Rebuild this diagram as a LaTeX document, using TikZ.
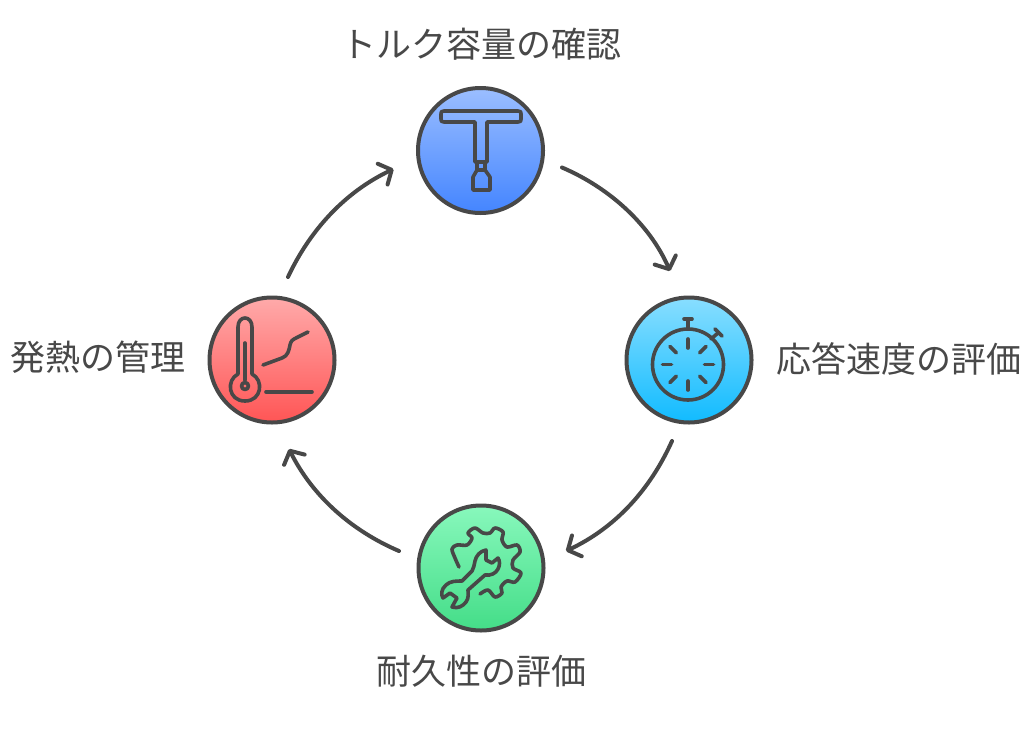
\documentclass[tikz,border=0pt]{standalone}
\usepackage{fontspec}
\setmainfont{Noto Sans CJK JP}
\usetikzlibrary{arrows.meta,calc}
\definecolor{ink}{HTML}{484848}
\tikzset{
  x=1pt,y=-1pt,
  disc/.style={circle,draw=ink,line width=4pt,minimum size=125pt,inner sep=0pt,shading=axis,shading angle=0},
  iconline/.style={draw=ink,line width=3.6pt,line cap=round,line join=round},
  flow/.style={draw=ink,line width=4pt,line cap=round,-{Straight Barb[length=10pt,width=23pt,line width=4pt,round]}},
  caption/.style={text=ink,font=\fontsize{35}{38}\selectfont,inner sep=0pt}
}
\begin{document}
\begin{tikzpicture}
\useasboundingbox (0,0) rectangle (1024,736);
\node[disc,top color={rgb,255:red,155;green,190;blue,255},bottom color={rgb,255:red,68;green,133;blue,255}] (tq) at (480.5,150.5) {};
\node[disc,top color={rgb,255:red,136;green,222;blue,255},bottom color={rgb,255:red,17;green,187;blue,255}] (sp) at (689,360) {};
\node[disc,top color={rgb,255:red,136;green,248;blue,188},bottom color={rgb,255:red,68;green,221;blue,136}] (du) at (481,568) {};
\node[disc,top color={rgb,255:red,255;green,170;blue,170},bottom color={rgb,255:red,255;green,85;blue,85}] (he) at (272,360) {};

\node[caption] (l1) at (481,44.5) {トルク容量の確認};
\node[caption] (l2) at (899,358.5) {応答速度の評価};
\node[caption] (l3) at (481,671) {耐久性の評価};
\node[caption] (l4) at (98,357.5) {発熱の管理};

\coordinate (a1s) at ($(tq)+(81.5,17)$);
\coordinate (a1e) at ($(sp)+(-19,-89)$);
\coordinate (a2s) at ($(sp)+(-17,81)$);
\coordinate (a2e) at ($(du)+(85,-17)$);
\coordinate (a3s) at ($(du)+(-82,-17)$);
\coordinate (a3e) at ($(he)+(17,89)$);
\coordinate (a4s) at ($(he)+(16,-83)$);
\coordinate (a4e) at ($(tq)+(-87,18.5)$);
\draw[flow] (a1s) .. controls (610,188) and (650,225) .. (a1e);
\draw[flow] (a2s) .. controls (650,490) and (615,528) .. (a2e);
\draw[flow] (a3s) .. controls (350,530) and (312,495) .. (a3e);
\draw[flow] (a4s) .. controls (310,230) and (345,192) .. (a4e);

% T-handle wrench
\draw[iconline] (444,111) -- (518,111) .. controls (521,111) and (521,112) .. (521,114) -- (521,119) .. controls (521,121) and (521,122) .. (518,122) -- (487,122) -- (487,162) -- (475,162) -- (475,122) -- (444,122) .. controls (441,122) and (441,121) .. (441,119) -- (441,114) .. controls (441,112) and (441,111) .. (444,111) -- cycle;
\draw[iconline] (477,162) -- (477,170) (485,162) -- (485,170);
\draw[iconline] (477,170) -- (485,170) -- (490,177) -- (490,190) -- (473,190) -- (473,177) -- cycle;

% stopwatch
\draw[iconline] (688,364.5) circle[radius=35.5];
\draw[iconline] (688,328) -- (688,319);
\draw[iconline] (684,319) -- (692,319);
\draw[iconline] (711,339) -- (718,333);
\draw[iconline] (715,329) -- (722,336);
\foreach \a in {0,45,...,315}{
  \draw[iconline] ($(688,364.5)+(\a:16.5)$) -- ($(688,364.5)+(\a:25.5)$);
}

% gear and spanner
\draw[iconline] plot[smooth,tension=.55] coordinates {(459,567) (455,558) (452,549) (457,545) (467,545) (472,538) (468,533) (475,528) (483,533) (490,533) (495,528) (503,532) (502,540) (507,547) (517,545) (520,552) (513,560) (513,568) (521,573) (515,582) (507,581) (501,587) (502,593) (495,597) (488,590) (480,594)};
\draw[iconline] (486,550)
  .. controls (480,551) and (476,556) .. (475,561)
  .. controls (474,565) and (474,568) .. (472,571)
  -- (462,581)
  .. controls (456,581) and (450,581) .. (446,585)
  .. controls (441,589) and (441,595) .. (443,598)
  -- (450,593) -- (457,598) -- (452,607)
  .. controls (458,609) and (463,606) .. (466,602)
  .. controls (469,598) and (468,594) .. (468,590)
  -- (485,575)
  .. controls (491,576) and (496,573) .. (498,569)
  .. controls (500,565) and (500,561) .. (498,558)
  -- (492,563) -- (486,560) -- cycle;

% thermometer and curve
\draw[iconline] (238,372) -- (238,327) .. controls (238,315) and (252,315) .. (252,327) -- (252,374)
  .. controls (264,380) and (262,401) .. (245,401)
  .. controls (228,401) and (226,380) .. (238,374) -- cycle;
\draw[iconline] (245,343) -- (245,380);
\draw[iconline] (245,386) circle[radius=3.5];
\draw[iconline] (263,365) -- (282,358) .. controls (288,356) and (289,350) .. (290,345) .. controls (291,341) and (292,340) .. (296,338) -- (308,332);
\draw[iconline] (266,392) -- (312,392);
\end{tikzpicture}
\end{document}
